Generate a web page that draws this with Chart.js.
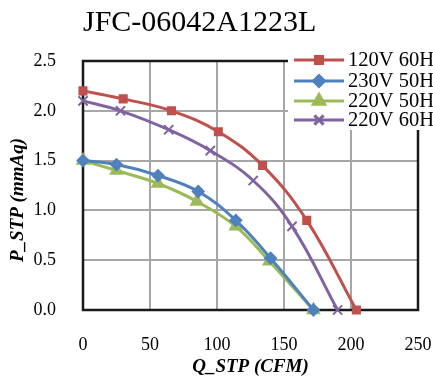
<!DOCTYPE html>
<html>
<head>
<meta charset="utf-8">
<script src="https://cdn.jsdelivr.net/npm/chart.js@4.4.1/dist/chart.umd.min.js"></script>
<style>
  html, body { margin: 0; padding: 0; background: #fff; }
  #wrap { width: 433px; height: 378px; }
</style>
</head>
<body>
<div id="wrap"><canvas id="myChart"></canvas></div>
<script>
// values
const seriesNames = ['120V 60H', '230V 50H', '220V 50H', '220V 60H'];
const q120v60 = [0, 30, 66, 101, 134, 167, 204];
const p120v60 = [2.2, 2.12, 2.0, 1.79, 1.45, 0.9, 0];
const q230v50 = [0, 25, 56, 86, 114, 140, 172];
const p230v50 = [1.5, 1.46, 1.35, 1.19, 0.9, 0.52, 0];
const q220v50 = [0, 25, 56, 85, 114, 139, 172];
const p220v50 = [1.5, 1.4, 1.27, 1.09, 0.84, 0.49, 0];
const q220v60 = [0, 28, 64, 95, 127, 156, 190];
const p220v60 = [2.1, 2.0, 1.81, 1.6, 1.3, 0.84, 0];

const colors = ['#C0504D', '#4F81BD', '#9BBB59', '#8064A2'];
const styles = ['rect', 'rectRot', 'triangle', 'crossRot'];
const radii = [5, 5.5, 6.5, 6.5];

function pts(xs, ys) {
  return xs.map((x, i) => ({ x: x, y: ys[i] }));
}
const allData = [pts(q120v60, p120v60), pts(q230v50, p230v50), pts(q220v50, p220v50), pts(q220v60, p220v60)];

const SERIF = '"Liberation Serif", "Times New Roman", serif';

const extras = {
  id: 'extras',
  beforeDatasetsDraw(chart) {
    const { ctx, chartArea: a } = chart;
    ctx.save();
    ctx.strokeStyle = '#1a1a1a';
    ctx.lineWidth = 2.5;
    ctx.strokeRect(a.left, a.top, a.right - a.left, a.bottom - a.top);
    ctx.restore();
  },
  afterDraw(chart) {
    const ctx = chart.ctx;
    ctx.save();
    // legend box over the top right of the plot
    ctx.fillStyle = '#fff';
    ctx.fillRect(288, 50, 145, 80);
    const rows = [60, 81, 101, 120];
    ctx.font = '20.5px ' + SERIF;
    ctx.textBaseline = 'middle';
    ctx.textAlign = 'left';
    seriesNames.forEach((name, i) => {
      ctx.strokeStyle = colors[i];
      ctx.lineWidth = 3;
      ctx.beginPath();
      ctx.moveTo(294, rows[i]);
      ctx.lineTo(344, rows[i]);
      ctx.stroke();
      ctx.fillStyle = colors[i];
      Chart.helpers.drawPoint(ctx, { pointStyle: styles[i], radius: radii[i], rotation: 0, borderWidth: 2 }, 319, rows[i]);
      ctx.fillStyle = '#000';
      ctx.fillText(name, 348, rows[i] + 1);
    });
    // y axis title
    ctx.translate(18, 200);
    ctx.rotate(-Math.PI / 2);
    ctx.font = 'bold italic 19px ' + SERIF;
    ctx.textAlign = 'center';
    ctx.fillStyle = '#000';
    ctx.fillText('P_STP (mmAq)', 0, 0);
    ctx.restore();
  }
};

const ctx = document.getElementById('myChart').getContext('2d');
const myChart = new Chart(ctx, {
  type: 'line',
  data: {
    datasets: allData.map((d, i) => ({
      label: seriesNames[i],
      data: d,
      borderColor: colors[i],
      backgroundColor: colors[i],
      borderWidth: 3,
      pointStyle: styles[i],
      pointRadius: radii[i],
      pointBorderWidth: 2,
      pointBorderColor: colors[i],
      pointBackgroundColor: colors[i],
      tension: 0.4,
      clip: false,
      fill: false
    }))
  },
  options: {
    responsive: true,
    maintainAspectRatio: false,
    animation: false,
    layout: { padding: { left: 0, right: 15, top: 5, bottom: 0 } },
    plugins: {
      legend: { display: false },
      tooltip: { enabled: false },
      title: {
        display: true,
        text: 'JFC-06042A1223L',
        fullSize: false,
        align: 'start',
        color: '#000',
        font: { family: SERIF, size: 30, weight: 'normal' },
        padding: { top: 0, bottom: 20 }
      }
    },
    scales: {
      x: {
        type: 'linear',
        min: 0,
        max: 250,
        afterFit: (s) => { s.height = 68; s.paddingLeft = 0; s.paddingRight = 0; },
        ticks: { stepSize: 50, color: '#000', padding: 24, font: { family: SERIF, size: 18 } },
        grid: { color: '#a6a6a6', lineWidth: 2, drawTicks: false },
        border: { display: false },
        title: {
          display: true,
          text: 'Q_STP (CFM)',
          color: '#000',
          font: { family: SERIF, size: 19, weight: 'bold', style: 'italic' },
          padding: 0
        }
      },
      y: {
        min: 0,
        max: 2.5,
        afterFit: (s) => { s.width = 83; },
        ticks: { stepSize: 0.5, color: '#000', padding: 27, font: { family: SERIF, size: 18 },
          callback: (v) => v.toFixed(1) },
        grid: { color: '#a6a6a6', lineWidth: 2, drawTicks: false },
        border: { display: false }
      }
    }
  },
  plugins: [extras]
});
</script>
</body>
</html>
